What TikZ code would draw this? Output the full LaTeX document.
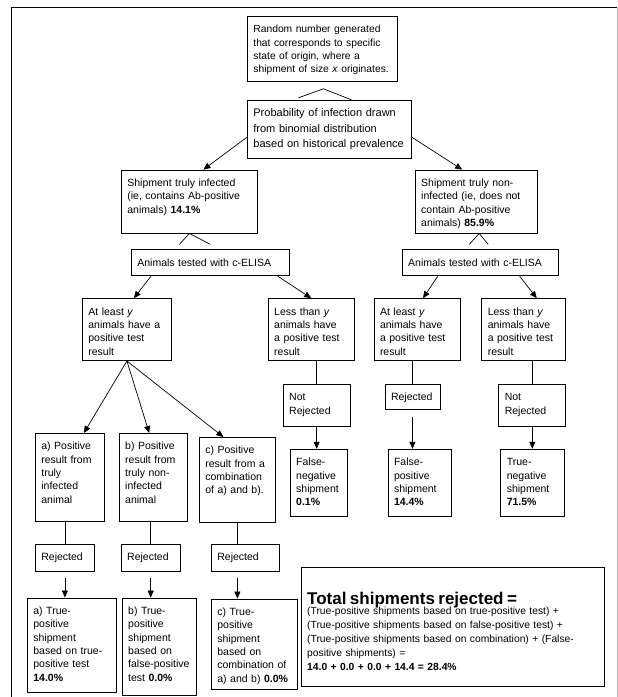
\documentclass[tikz,border=0pt]{standalone}
\usepackage{fontspec}
\setmainfont{Liberation Sans}
\usetikzlibrary{positioning,calc,arrows.meta}

\begin{document}
\begin{tikzpicture}[x=1pt, y=1pt, every text node part/.style={align=left}]

\tikzstyle{box} = [draw, rectangle, line width=0.8pt, anchor=north west, inner xsep=6pt, inner ysep=3pt, text height=13.5pt, font=\fontsize{10.5}{13.3}\selectfont]
\tikzstyle{link} = [draw, line width=0.7pt]
\tikzstyle{arrow} = [draw, line width=0.7pt, -{Triangle[length=7pt,width=6pt]}]

\useasboundingbox (0,0) rectangle (618,-697);
\draw [line width=1.2pt] (11.5,-697) -- (11.5,-7.5) -- (617,-7.5);
\draw [gray!60, line width=0.8pt] (617,-7.5) -- (617,-697);

\node [box, text width=138pt, text depth=45.5pt, font=\fontsize{10.3}{13.3}\selectfont] (rand) at (247,-16) {Random number generated\\that corresponds to specific\\state of origin, where a\\shipment of size \textit{x} originates.};
\node [box, text width=152pt, text depth=38.5pt, font=\fontsize{11}{15.3}\selectfont, below right=18pt and 0pt of rand.south west] (prob) {Probability of infection drawn\\from binomial distribution\\based on historical prevalence};

\node [box, text width=124pt, text depth=43.5pt, below right=11pt and -126pt of prob.south west] (inf) {Shipment truly infected\\(ie, contains Ab-positive\\animals) \textbf{14.1\%}};
\node [box, text width=110pt, text depth=43.5pt, right=157pt of inf] (noninf) {Shipment truly non-\\infected (ie, does not\\contain Ab-positive\\animals) \textbf{85.9\%}};

\node [box, text width=146pt, text depth=6.5pt, below right=16pt and 10pt of inf.south west] (elisaL) {Animals tested with c-ELISA};
\node [box, text width=144pt, text depth=6.5pt, right=112pt of elisaL] (elisaR) {Animals tested with c-ELISA};

\node [box, text width=77pt, text depth=42.5pt, below right=22pt and -49pt of elisaL.south west] (leastL) {At least \textit{y}\\animals have a\\positive test\\result};
\node [box, text width=74pt, text depth=42.5pt, right=96pt of leastL] (lessL) {Less than \textit{y}\\animals have\\a positive test\\result};
\node [box, text width=74pt, text depth=42.5pt, right=19pt of lessL] (leastR) {At least \textit{y}\\animals have\\a positive test\\result};
\node [box, text width=72pt, text depth=42.5pt, right=21pt of leastR] (lessR) {Less than \textit{y}\\animals have\\a positive test\\result};

\node [box, text width=55pt, text depth=22.5pt, below right=23pt and 15pt of lessL.south west] (notrejL) {Not\\Rejected};
\node [box, text width=43pt, text depth=5.5pt, below right=23pt and 11pt of leastR.south west] (rejR) {Rejected};
\node [box, text width=55pt, text depth=22.5pt, below right=23pt and 17pt of lessR.south west] (notrejR) {Not\\Rejected};

\node [box, text width=45pt, text depth=47.5pt, below right=22pt and 7pt of notrejL.south west] (falseneg) {False-\\negative\\shipment\\\textbf{0.1\%}};
\node [box, text width=51pt, text depth=47.5pt, below right=39pt and 3pt of rejR.south west] (falsepos) {False-\\positive\\shipment\\\textbf{14.4\%}};
\node [box, text width=52pt, text depth=47.5pt, below right=22pt and 2pt of notrejR.south west] (trueneg) {True-\\negative\\shipment\\\textbf{71.5\%}};

\node [box, text width=57pt, text depth=68.5pt, below right=72pt and -47pt of leastL.south west] (posA) {a) Positive\\result from\\truly\\infected\\animal};
\node [box, text width=56pt, text depth=68.5pt, right=14pt of posA] (posB) {b) Positive\\result from\\truly non-\\infected\\animal};
\node [box, text width=64pt, text depth=65.5pt, below right=76pt and 117pt of leastL.south west] (posC) {c) Positive\\result from a\\combination\\of a) and b).};

\node [box, text width=47pt, text depth=7.5pt, below right=22pt and 0pt of posA.south west] (rejA) {Rejected};
\node [box, text width=47pt, text depth=7.5pt, below right=22pt and 2pt of posB.south west] (rejB) {Rejected};
\node [box, text width=56pt, text depth=7.5pt, below right=21pt and 12pt of posC.south west] (rejC) {Rejected};

\node [box, text width=77pt, text depth=74.5pt, below right=26pt and -8pt of rejA.south west] (tpA) {a) True-\\positive\\shipment\\based on true-\\positive test\\\textbf{14.0\%}};
\node [box, text width=62pt, text depth=77.5pt, below right=26pt and 1pt of rejB.south west] (tpB) {b) True-\\positive\\shipment\\based on\\false-positive\\test \textbf{0.0\%}};
\node [box, text width=74pt, text depth=70.5pt, below right=27pt and 0pt of rejC.south west] (tpC) {c) True-\\positive\\shipment\\based on\\combination of\\a) and b) \textbf{0.0\%}};

\node [box, text width=291pt, text height=34pt, text depth=79pt, font=\fontsize{10.3}{14}\selectfont, below right=50pt and 11pt of falseneg.south west] (total) {{\fontsize{17}{20}\selectfont\bfseries Total shipments rejected =}\\[-3.5pt](True-positive shipments based on true-positive test) +\\(True-positive shipments based on false-positive test) +\\(True-positive shipments based on combination) + (False-\\positive shipments) =\\\textbf{14.0 + 0.0 + 0.0 + 14.4 = 28.4\%}};

\draw [link] ($(rand.south)+(-24,-16)$) -- ($(rand.south)+(1,-7)$) -- ($(rand.south)+(29,-18)$);
\draw [arrow] ($(prob.west)+(0,-8)$) -- ($(inf.north)+(14,0)$);
\draw [arrow] ($(prob.east)+(0,-8)$) -- ($(noninf.north)+(-14,0)$);
\draw [link] ($(inf.south)+(-10,-11)$) -- (inf.south) -- ($(inf.south)+(21,-11)$);
\draw [link] ($(noninf.south)+(-7,-11)$) -- ($(noninf.south)+(3,0)$) -- ($(noninf.south)+(12,-11)$);

\draw [arrow] ($(elisaL.south west)+(20,0)$) -- ($(leastL.north)+(7,0)$);
\draw [arrow] ($(elisaL.south east)+(-12,0)$) -- (lessL.north);
\draw [arrow] ($(elisaR.south west)+(36,0)$) -- ($(leastR.north)+(6,0)$);
\draw [arrow] ($(elisaR.south east)+(-39,0)$) -- ($(lessR.north)+(13,0)$);

\draw [link] (lessL.south -| notrejL.north) -- (notrejL.north);
\draw [link] (leastR.south -| rejR.north) -- (rejR.north);
\draw [link] (lessR.south -| notrejR.north) -- (notrejR.north);
\draw [arrow] (notrejL.south) -- (falseneg.north -| notrejL.south);
\draw [arrow] ($(rejR.south)+(0,-7)$) -- (falsepos.north -| rejR.south);
\draw [arrow] (notrejR.south) -- (trueneg.north -| notrejR.south);

\foreach \to/\dx in {posA/14, posB/-4, posC/-14}
  \draw [arrow] (leastL.south) -- ($(\to.north)+(\dx,0)$);

\draw [link] (posA.south -| rejA.north) -- (rejA.north);
\draw [link] (posB.south -| rejB.north) -- (rejB.north);
\draw [link] (posC.south) -- (rejC.north -| posC.south);
\draw [arrow] ($(rejA.south)+(0,-6)$) -- (tpA.north -| rejA.south);
\draw [arrow] ($(rejB.south)+(0,-6)$) -- (tpB.north -| rejB.south);
\draw [arrow] ($(rejC.south -| posC.south)+(0,-6)$) -- (tpC.north -| posC.south);
\end{tikzpicture}
\end{document}
